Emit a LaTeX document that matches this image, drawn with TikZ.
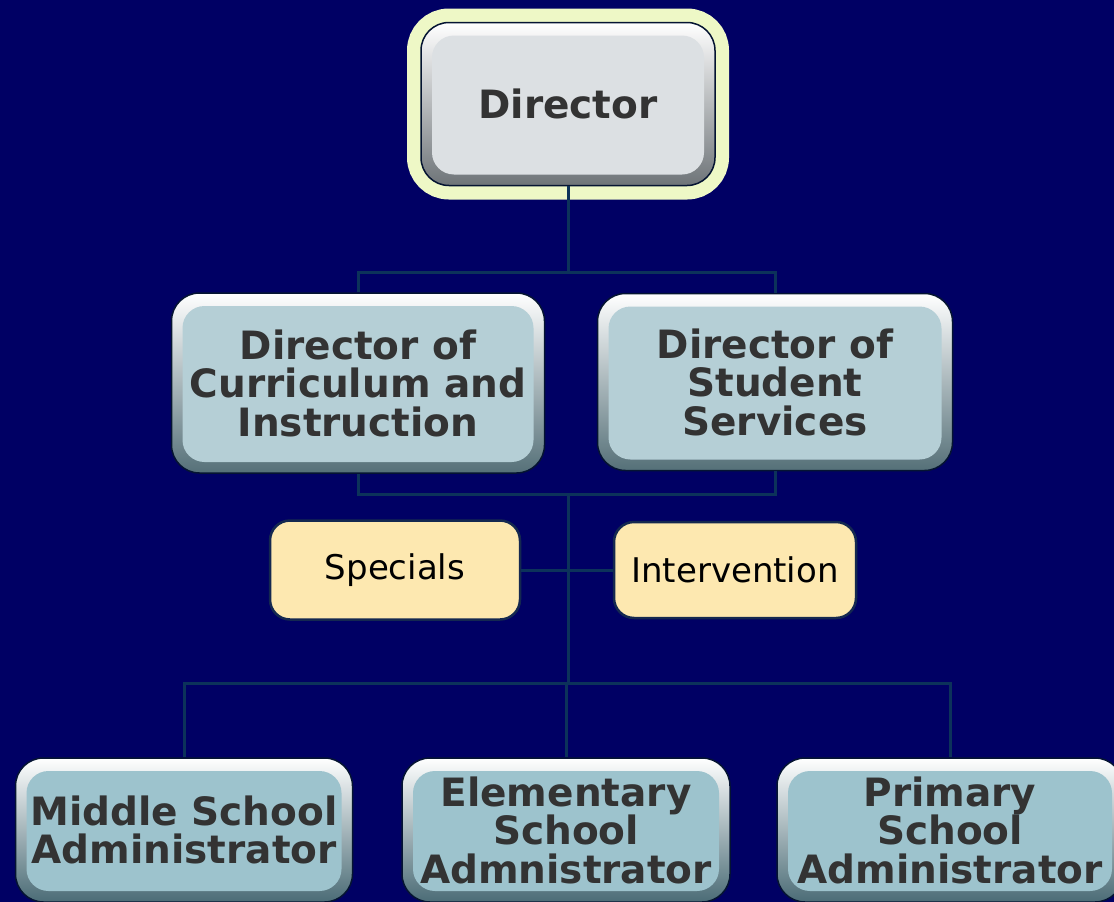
\documentclass[tikz,border=0pt]{standalone}
\usepackage{fontspec}
\setmainfont{DejaVu Sans}

\definecolor{bgnavy}{RGB}{0,0,100}
\definecolor{linecol}{RGB}{12,50,90}
\definecolor{edgecol}{RGB}{5,20,50}
\definecolor{glowcol}{RGB}{238,248,198}
\definecolor{dirfill}{RGB}{220,224,227}
\definecolor{dirdark}{RGB}{110,116,120}
\definecolor{midfill}{RGB}{181,207,214}
\definecolor{middark}{RGB}{85,112,120}
\definecolor{lowfill}{RGB}{157,195,205}
\definecolor{lowdark}{RGB}{75,108,118}
\definecolor{tanfill}{RGB}{253,232,176}
\definecolor{tanline}{RGB}{20,40,80}
\definecolor{textgray}{RGB}{51,51,51}

\newcommand\boxfont{\fontsize{39}{38.5}\selectfont\bfseries}
\newcommand\tagfont{\fontsize{34}{36}\selectfont}

\tikzset{
  conn/.style={draw=linecol, line width=3pt},
  bevelbox/.style 2 args={rounded corners=28pt, draw=edgecol, line width=1.5pt,
    top color=white, middle color=#1, bottom color=#2,
    text=textgray, font=\boxfont, align=center, inner sep=0pt,
    path picture={\fill[#1, rounded corners=22pt]
      ([shift={(11pt,-13pt)}]path picture bounding box.north west) rectangle
      ([shift={(-11pt,11pt)}]path picture bounding box.south east);}},
  dirbox/.style={bevelbox={dirfill}{dirdark}, preaction={draw=glowcol, line width=28pt}},
  midbox/.style={bevelbox={midfill}{middark}},
  lowbox/.style={bevelbox={lowfill}{lowdark}},
  tagbox/.style={draw=tanline, line width=2.5pt, fill=tanfill, rounded corners=20pt,
    font=\tagfont, text=black, inner sep=0pt}
}

\begin{document}
\begin{tikzpicture}[x=1pt,y=-1pt]
  \useasboundingbox (0,0) rectangle (1114,902);
  \fill[bgnavy] (0,0) rectangle (1114,902);

  \node[dirbox, minimum width=294pt, minimum height=163pt] (dir) at (568,104) {Director};

  \node[midbox, minimum width=373pt, minimum height=180pt] (cur) at (358,383)
    {Director of\\Curriculum and\\Instruction};
  \node[midbox, minimum width=355pt, minimum height=177pt] (stu) at (775,382)
    {Director of\\Student\\Services};

  \node[tagbox, minimum width=250pt, minimum height=99pt] (spec) at (395,570) {Specials};
  \node[tagbox, minimum width=242pt, minimum height=96pt] (inter) at (735,570) {Intervention};

  \node[lowbox, minimum width=337pt, minimum height=144pt] (mid) at (184,830)
    {Middle School\\Administrator};
  \node[lowbox, minimum width=328pt, minimum height=144pt] (ele) at (566,830)
    {Elementary\\School\\Admnistrator};
  \node[lowbox, minimum width=346pt, minimum height=144pt] (pri) at (950,830)
    {Primary\\School\\Administrator};

  \coordinate (jtop) at (568,272);
  \coordinate (jmid) at (568,494);
  \coordinate (jlow) at (568,683);

  \draw[conn] (dir.south) -- (jtop);
  \draw[conn] (cur.north) |- (jtop) -| (stu.north);
  \draw[conn] (cur.south) |- (jmid) -| (stu.south);
  \draw[conn] (jmid) -- (jlow);
  \draw[conn] (spec.east) -- (inter.west);
  \draw[conn] (mid.north) |- (jlow) -| (pri.north);
  \draw[conn] (ele.north |- jlow) -- (ele.north);
\end{tikzpicture}
\end{document}
